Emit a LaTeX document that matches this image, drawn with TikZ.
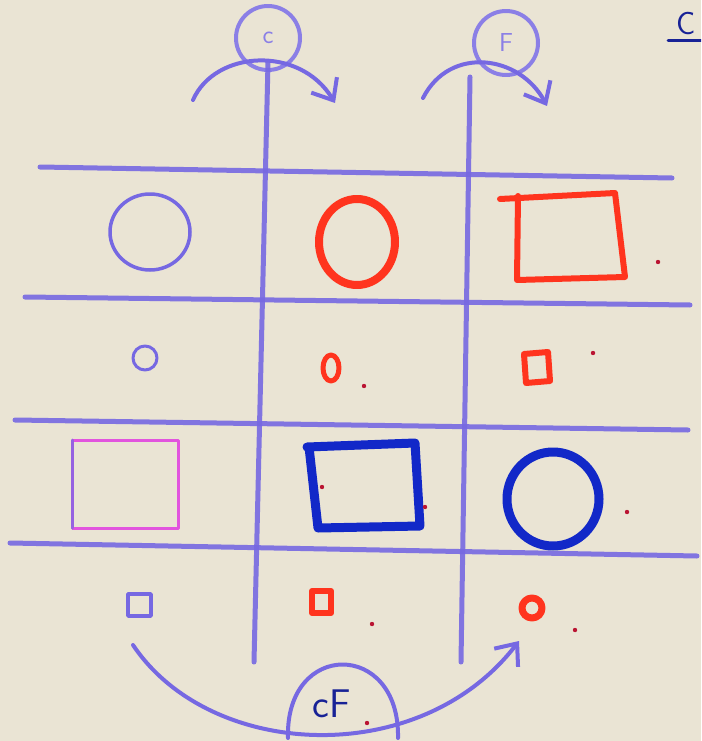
\documentclass[tikz,border=0pt]{standalone}
\usepackage{tikz}
\usetikzlibrary{arrows.meta}
\definecolor{paper}{RGB}{234,228,212}
\definecolor{crayon}{RGB}{118,104,226}
\definecolor{felt}{RGB}{255,52,30}
\definecolor{marker}{RGB}{18,40,200}
\definecolor{pink}{RGB}{226,84,222}
\definecolor{ink}{RGB}{24,34,150}
\definecolor{speck}{RGB}{186,20,50}
\begin{document}
\begin{tikzpicture}[x=1pt, y=-1pt, line cap=round, line join=round,
  grid/.style={crayon, line width=5pt, opacity=0.9},
  swing/.style={crayon, line width=4pt, -{Straight Barb[length=18pt, width=30pt, line width=4pt]}},
  tag/.style={circle, draw=crayon!85, line width=4pt, minimum size=64pt, inner sep=0pt, text=crayon!85, font=\sffamily\fontsize{26}{28}\selectfont}]
	\fill[paper] (0,0) rectangle (701,741);
	\useasboundingbox (0,0) rectangle (701,741);
	\clip (0,0) rectangle (701,741);
	\node[tag] (c) at (268,38) {c};
	\node[tag] (f) at (506,43) {F};
	\coordinate (cin) at (193,100);
	\coordinate (cout) at (335,103);
	\coordinate (fin) at (423,98);
	\coordinate (fout) at (547,106);
	\coordinate (cfin) at (133,645);
	\coordinate (cfout) at (519,641);
	\draw[swing] (cin) .. controls (215,50) and (300,45) .. (cout);
	\draw[swing] (fin) .. controls (450,45) and (520,55) .. (fout);
	\draw[grid] (40,167) -- (672,178);
	\draw[grid] (25,297) -- (690,305);
	\draw[grid] (15,420) -- (688,430);
	\draw[grid] (10,543) -- (697,556);
	\draw[grid] (268,62) -- (254,662);
	\draw[grid] (470,77) -- (461,662);
	\draw[crayon, line width=3.5pt] (150,232) ellipse (40 and 38);
	\draw[felt, line width=8pt] (357,242) ellipse (38 and 43);
	\draw[felt, line width=6pt] (500,199) -- (615,193) -- (625,277) -- (517,280) -- (518,196);
	\draw[crayon, line width=3pt] (145,358) circle (12);
	\draw[felt, line width=5pt] (331,368) ellipse (8 and 13);
	\draw[felt, line width=6pt] (524,354) -- (548,352) -- (550,381) -- (526,383) -- cycle;
	\draw[pink, line width=3pt] (72,440) -- (178,440) -- (178,528) -- (72,528) -- cycle;
	\draw[crayon!70!pink, line width=3pt] (72,440) -- (72,528);
	\draw[marker, line width=9pt] (307,447) -- (415,443) -- (420,526) -- (318,528) -- (309,447);
	\draw[marker, line width=9pt] (553,499) ellipse (46 and 47);
	\draw[crayon, line width=3.5pt] (128,594) rectangle (151,616);
	\draw[felt, line width=6pt] (312,591) rectangle (331,613);
	\draw[felt, line width=7pt] (532,608) circle (10);
	\draw[crayon, line width=4pt] (288,738) .. controls (285,640) and (400,640) .. (398,738);
	\draw[swing] (cfin) .. controls (210,760) and (420,770) .. (cfout);
	\node[ink, font=\sffamily\fontsize{40}{44}\selectfont] (cf) at (332,704) {cF};
	\node[ink, font=\sffamily\fontsize{32}{36}\selectfont, anchor=west, inner sep=0pt] (hdr) at (676,24) {C};
	\draw[ink, line width=3pt] (668,41) -- (701,41);
	\foreach \x/\y in {658/262, 593/353, 364/386, 322/487, 425/507, 627/512, 372/624, 575/630, 367/723}
		\fill[speck] (\x,\y) circle (2.2);
\end{tikzpicture}
\end{document}
